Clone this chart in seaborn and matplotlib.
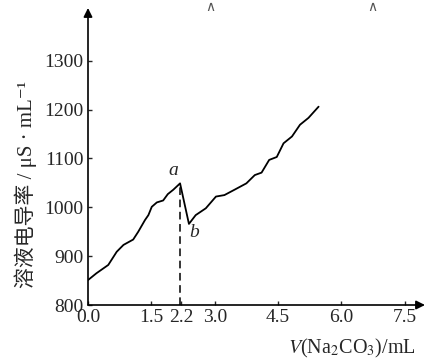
import matplotlib
matplotlib.use("Agg")
import matplotlib.pyplot as plt
import seaborn as sns
import pandas as pd

# 数据: 加入 Na2CO3 体积与溶液电导率
volume = [0.00, 0.20, 0.48, 0.68, 0.84, 1.07, 1.19, 1.35, 1.43, 1.51, 1.63, 1.78,
          1.89, 2.02, 2.18, 2.39, 2.55, 2.79, 3.03, 3.23, 3.47, 3.75, 3.95, 4.11,
          4.29, 4.47, 4.63, 4.83, 5.02, 5.22, 5.46]
conductivity = [851, 865, 882, 909, 923, 934, 950, 974, 984, 1001, 1010, 1014,
                1027, 1036, 1049, 966, 984, 998, 1022, 1025, 1036, 1049, 1066, 1071,
                1097, 1103, 1131, 1145, 1169, 1183, 1206]
x_ticks = [0.0, 1.5, 2.2, 3.0, 4.5, 6.0, 7.5]
x_tick_labels = ["0.0", "1.5", "2.2", "3.0", "4.5", "6.0", "7.5"]
y_ticks = [800, 900, 1000, 1100, 1200, 1300]
peak_a = (2.18, 1049)
point_b = (2.39, 966)

df = pd.DataFrame({"V": volume, "G": conductivity})

sns.set_style("ticks")
plt.rcParams['font.family'] = ['Liberation Serif', 'Noto Sans CJK SC', 'DejaVu Sans']
plt.rcParams['mathtext.fontset'] = 'stix'

fig = plt.figure(figsize=(4.28, 3.61), dpi=100)
ax = fig.add_axes([88 / 428, (361 - 305) / 361, (425 - 88) / 428, (305 - 8) / 361])

sns.lineplot(data=df, x="V", y="G", sort=False, estimator=None,
             color="black", linewidth=1.3, ax=ax)

# 虚线 (a 点)
ax.plot([peak_a[0], peak_a[0]], [800, peak_a[1]], color="black",
        linestyle=(0, (5, 3)), linewidth=1.1)

ax.text(peak_a[0] - 0.15, peak_a[1] + 8, "a", fontsize=14, style="italic",
        ha="center", va="bottom")
ax.text(point_b[0] + 0.12, point_b[1] - 18, "b", fontsize=14, style="italic",
        ha="center", va="center")

ax.set_xlim(0, 7.98)
ax.set_ylim(800, 1408)
ax.set_xticks(x_ticks)
ax.set_xticklabels(x_tick_labels)
ax.set_yticks(y_ticks)
ax.tick_params(direction="in", length=3, width=1, labelsize=14, pad=3)

for s in ["top", "right", "left", "bottom"]:
    ax.spines[s].set_visible(False)

# 坐标轴箭头
ax.annotate("", xy=(0, 1.0), xytext=(0, 0), xycoords="axes fraction",
            arrowprops=dict(arrowstyle="-|>", lw=1.2, color="black",
                            mutation_scale=13, shrinkA=0, shrinkB=0))
ax.annotate("", xy=(1.0, 0), xytext=(0, 0), xycoords="axes fraction",
            arrowprops=dict(arrowstyle="-|>", lw=1.2, color="black",
                            mutation_scale=13, shrinkA=0, shrinkB=0))

ax.set_xlabel("")
ax.set_ylabel("")
fig.text(26 / 428, 1 - 184 / 361, "溶液电导率 / μS · mL⁻¹", rotation=90,
         fontsize=15, ha="center", va="center")
fig.text(416 / 428, 1 - 348 / 361, "$V$(Na$_2$CO$_3$)/mL", fontsize=14.5,
         ha="right", va="center")

# 顶部残留符号
fig.text(210 / 428, 1.0, "∧", fontsize=10, color="#555555", ha="center",
         va="top", family="DejaVu Sans")
fig.text(372 / 428, 1.0, "∧", fontsize=10, color="#555555", ha="center",
         va="top", family="DejaVu Sans")

fig.savefig("out.png", dpi=100)
